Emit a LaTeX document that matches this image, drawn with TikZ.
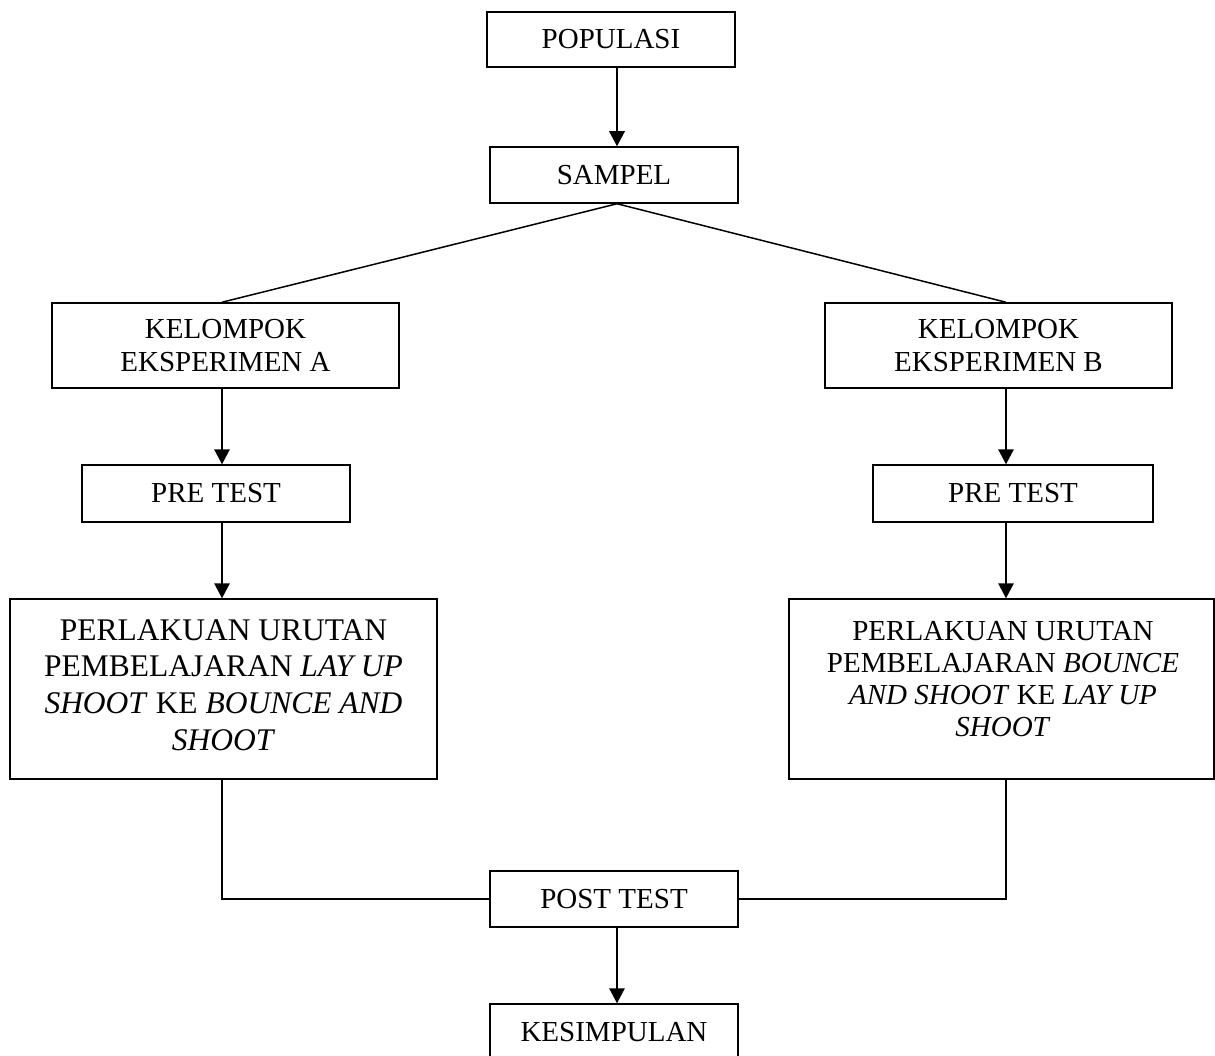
\documentclass[tikz,border=0pt]{standalone}
\usepackage{fontspec}
\setmainfont{Liberation Serif}
\usetikzlibrary{arrows.meta,calc}
\begin{document}
\begin{tikzpicture}[x=1pt,y=-1pt,
  box/.style={draw,line width=1.5pt,rectangle,inner sep=0pt,align=center,
              font=\fontsize{29}{33.3}\selectfont},
  bigtxt/.style={align=center,inner sep=0pt,font=\fontsize{31.5}{36.7}\selectfont},
  smalltxt/.style={align=center,inner sep=0pt,font=\fontsize{29}{32}\selectfont},
  arr/.style={line width=1.5pt,-{Triangle[length=15pt,width=15.5pt]}},
  ln/.style={line width=1.5pt}]
\useasboundingbox (0,0) rectangle (1215,1056);

\node[box,minimum width=248pt,minimum height=55pt] (pop) at (611,39.5) {POPULASI};
\node[box,minimum width=248pt,minimum height=56pt] (sam) at (614,175) {SAMPEL};
\node[box,minimum width=347pt,minimum height=85pt] (ka) at (225.5,345.5) {KELOMPOK\\EKSPERIMEN A};
\node[box,minimum width=347pt,minimum height=85pt] (kb) at (998.5,345.5) {KELOMPOK\\EKSPERIMEN B};
\node[box,minimum width=268pt,minimum height=57pt] (pa) at (216,493.5) {PRE TEST};
\node[box,minimum width=280pt,minimum height=57pt] (pb) at (1013,493.5) {PRE TEST};
\node[box,minimum width=427pt,minimum height=180pt] (la) at (223.5,689) {};
\node[bigtxt] (tla) at (223.5,685) {PERLAKUAN URUTAN\\PEMBELAJARAN \textit{LAY UP}\\\textit{SHOOT} KE \textit{BOUNCE AND}\\\textit{SHOOT}};
\node[box,minimum width=425pt,minimum height=180pt] (lb) at (1001.5,689) {};
\node[smalltxt] (tlb) at (1003,679.5) {PERLAKUAN URUTAN\\PEMBELAJARAN \textit{BOUNCE}\\\textit{AND SHOOT} KE \textit{LAY UP}\\\textit{SHOOT}};
\node[box,minimum width=248pt,minimum height=56pt] (post) at (614,899) {POST TEST};
\node[box,minimum width=248pt,minimum height=56pt] (kes) at (614,1032) {KESIMPULAN};

\coordinate (colA) at (222,0);
\coordinate (colB) at (1006,0);
\coordinate (colM) at (617,0);

\draw[arr] (pop.south -| colM) -- (sam.north -| colM);
\draw[ln] (sam.south -| colM) -- (ka.north -| colA);
\draw[ln] (sam.south -| colM) -- (kb.north -| colB);
\draw[arr] (ka.south -| colA) -- (pa.north -| colA);
\draw[arr] (kb.south -| colB) -- (pb.north -| colB);
\draw[arr] (pa.south -| colA) -- (la.north -| colA);
\draw[arr] (pb.south -| colB) -- (lb.north -| colB);
\draw[ln] (la.south -| colA) |- (post.west);
\draw[ln] (lb.south -| colB) |- (post.east);
\draw[arr] (post.south -| colM) -- (kes.north -| colM);
\end{tikzpicture}
\end{document}
